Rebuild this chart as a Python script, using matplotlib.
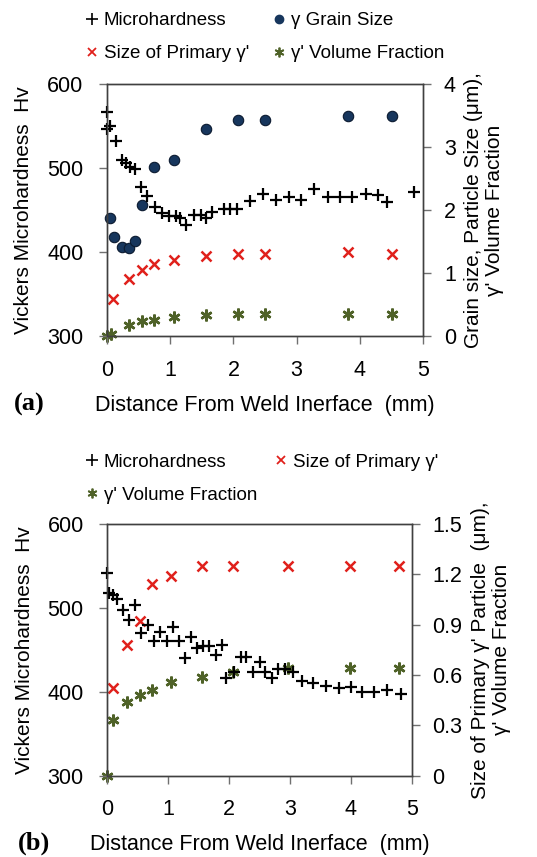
import matplotlib
matplotlib.use("Agg")
import matplotlib.pyplot as plt
from matplotlib.lines import Line2D

plt.rcParams['font.family'] = ['Liberation Sans', 'DejaVu Sans']
FS_TICK, FS_LAB, FS_LEG = 15.5, 16, 13.5

# ---------------- data: panel (a) ----------------
hv_dist_a = [0.0, 0.0, 0.05, 0.14, 0.24, 0.30, 0.37, 0.45, 0.53, 0.63, 0.76, 0.87, 0.98, 1.09, 1.16,
             1.25, 1.37, 1.48, 1.57, 1.66, 1.85, 1.95, 2.06, 2.27, 2.47, 2.67, 2.88, 3.07, 3.27, 3.49,
             3.69, 3.88, 4.10, 4.29, 4.43, 4.86]
hv_a = [567, 547, 550, 532, 510, 506, 501, 499, 477, 467, 454, 446, 443, 443, 440,
        432, 444, 444, 440, 448, 451, 451, 451, 461, 469, 462, 466, 462, 475, 466,
        466, 466, 469, 468, 459, 471]
grain_dist_a = [0.04, 0.11, 0.23, 0.35, 0.45, 0.55, 0.75, 1.06, 1.56, 2.07, 2.50, 3.81, 4.51]
grain_a = [1.87, 1.57, 1.41, 1.40, 1.51, 2.08, 2.69, 2.79, 3.28, 3.43, 3.43, 3.49, 3.49]
prim_dist_a = [0.10, 0.34, 0.55, 0.75, 1.06, 1.56, 2.07, 2.50, 3.81, 4.51]
prim_a = [0.59, 0.90, 1.05, 1.15, 1.20, 1.27, 1.30, 1.30, 1.34, 1.30]
vf_dist_a = [0.0, 0.07, 0.34, 0.55, 0.75, 1.06, 1.56, 2.07, 2.50, 3.81, 4.51]
vf_a = [0.0, 0.03, 0.17, 0.24, 0.26, 0.30, 0.33, 0.35, 0.35, 0.35, 0.35]

# ---------------- data: panel (b) ----------------
hv_dist_b = [0.0, 0.03, 0.10, 0.16, 0.25, 0.36, 0.45, 0.56, 0.67, 0.76, 0.87, 0.98, 1.08, 1.17,
             1.27, 1.37, 1.47, 1.58, 1.67, 1.78, 1.89, 1.95, 2.08, 2.20, 2.28, 2.40, 2.50, 2.59,
             2.70, 2.81, 2.92, 3.05, 3.19, 3.38, 3.60, 3.81, 4.00, 4.19, 4.38, 4.60, 4.83]
hv_b = [541, 518, 515, 511, 497, 486, 503, 470, 480, 461, 471, 461, 477, 460,
        440, 465, 452, 455, 454, 444, 456, 416, 424, 442, 442, 423, 436, 424,
        416, 427, 427, 424, 413, 410, 407, 404, 406, 400, 400, 402, 397]
prim_dist_b = [0.10, 0.33, 0.54, 0.74, 1.05, 1.56, 2.06, 2.97, 3.99, 4.79]
prim_b = [0.52, 0.78, 0.92, 1.14, 1.19, 1.25, 1.25, 1.25, 1.25, 1.25]
vf_dist_b = [0.0, 0.10, 0.33, 0.54, 0.74, 1.05, 1.56, 2.06, 2.97, 3.99, 4.79]
vf_b = [0.0, 0.33, 0.44, 0.48, 0.51, 0.56, 0.59, 0.62, 0.64, 0.64, 0.64]

x_ticks = [0, 1, 2, 3, 4, 5]
hv_ticks = [300, 400, 500, 600]
right_ticks_a = [0, 1, 2, 3, 4]
right_ticks_b = [0, 0.3, 0.6, 0.9, 1.2, 1.5]
right_ticklabels_b = ['0', '0.3', '0.6', '0.9', '1.2', '1.5']

xlabel = 'Distance From Weld Inerface  (mm)'
ylabel = 'Vickers Microhardness  Hv'
rlabel_a = "Grain size, Particle Size (\u03bcm),\n\u03b3' Volume Fraction"
rlabel_b = "Size of Primary \u03b3' Particle  (\u03bcm),\n\u03b3' Volume Fraction"

NAVY = '#17365d'
RED = '#e0201b'
GREEN = '#4f6228'
SPINE = '#404040'

fig = plt.figure(figsize=(5.37, 8.57), dpi=100)

def style(ax, right=False):
    for s in ax.spines.values():
        s.set_color(SPINE)
        s.set_linewidth(1.0)
    ax.tick_params(direction='out', length=6, width=1.0, color='#707070',
                   labelsize=FS_TICK, pad=11 if not right else 9)

def panel(rect, d_hv, hv, d_p, p, d_v, v, rticks, rticklabels, rlim, rlabel, tag,
          d_g=None, g=None):
    ax = fig.add_axes(rect)
    ax2 = ax.twinx()
    ax.set_zorder(ax2.get_zorder() + 1)
    ax.patch.set_visible(False)
    if d_g is not None:
        ax2.plot(d_g, g, 'o', ms=7.5, mfc=NAVY, mec='#0b1a30', mew=0.8, ls='none', clip_on=False)
    ax2.plot(d_p, p, 'x', ms=7.5, mew=1.8, color=RED, ls='none', clip_on=False)
    ax2.plot(d_v, v, marker=(6, 2, 0), ms=8.5, mew=1.8, color=GREEN, ls='none', clip_on=False)
    ax.plot(d_hv, hv, '+', ms=9, mew=1.6, color='black', ls='none', clip_on=False)
    ax.set_xlim(0, 5)
    ax.set_ylim(300, 600)
    ax.set_xticks(x_ticks)
    ax.set_yticks(hv_ticks)
    ax2.set_ylim(*rlim)
    ax2.set_yticks(rticks)
    ax2.set_yticklabels(rticklabels)
    style(ax)
    style(ax2, right=True)
    ax.set_xlabel(xlabel, fontsize=15.5, labelpad=10)
    ax.set_ylabel(ylabel, fontsize=FS_LAB - 1, labelpad=10)
    ax2.set_ylabel(rlabel, fontsize=FS_LAB - 1, labelpad=6, linespacing=1.1)
    ax.text(-0.295, -0.27, tag, transform=ax.transAxes, fontsize=19, fontweight='bold',
            family='Liberation Serif', ha='left', va='center')
    return ax

ax_a = panel([0.1993, 0.6079, 0.5885, 0.2940], hv_dist_a, hv_a, prim_dist_a, prim_a,
             vf_dist_a, vf_a, right_ticks_a, [str(t) for t in right_ticks_a], (0, 4),
             rlabel_a, '(a)', grain_dist_a, grain_a)
ax_b = panel([0.1998, 0.0949, 0.5669, 0.2937], hv_dist_b, hv_b, prim_dist_b, prim_b,
             vf_dist_b, vf_b, right_ticks_b, right_ticklabels_b, (0, 1.5),
             rlabel_b, '(b)')

h_hv = Line2D([], [], marker='+', ls='none', color='black', ms=9, mew=1.2)
h_g = Line2D([], [], marker='o', ls='none', mfc=NAVY, mec=NAVY, ms=6)
h_p = Line2D([], [], marker='x', ls='none', color=RED, ms=6, mew=1.3)
h_v = Line2D([], [], marker=(6, 2, 0), ls='none', color=GREEN, ms=7, mew=1.3)

leg_kw = dict(frameon=False, fontsize=FS_LEG, handlelength=0.6, handletextpad=0.35,
              labelspacing=0.85, borderaxespad=0, borderpad=0)
fig.legend([h_hv, h_p, h_g, h_v],
           ['Microhardness', "Size of Primary \u03b3'", '\u03b3 Grain Size', "\u03b3' Volume Fraction"],
           ncol=2, loc='upper left', bbox_to_anchor=(0.160, 0.986), columnspacing=1.3, **leg_kw)
fig.legend([h_hv, h_v, h_p],
           ['Microhardness', "\u03b3' Volume Fraction", "Size of Primary \u03b3'"],
           ncol=2, loc='upper left', bbox_to_anchor=(0.160, 0.4705), columnspacing=0.95, **leg_kw)

fig.savefig('out.png', dpi=100)
